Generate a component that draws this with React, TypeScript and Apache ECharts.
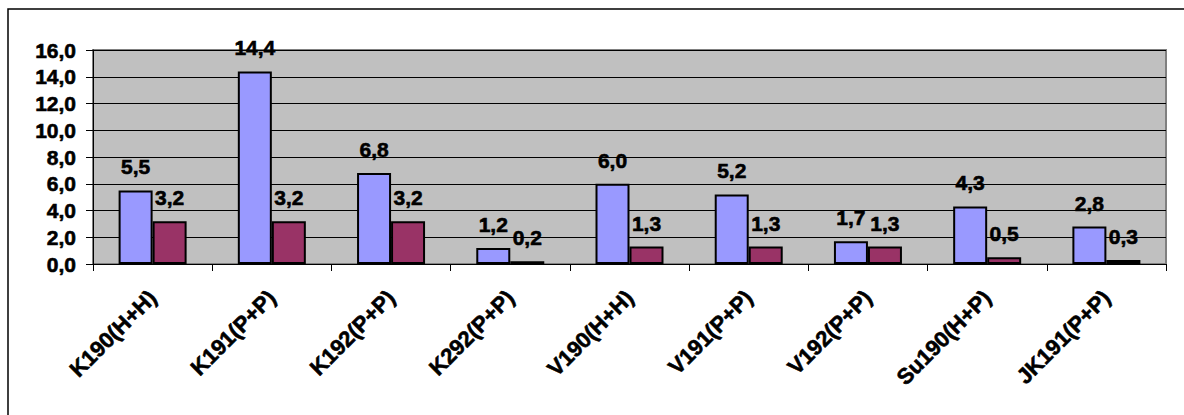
import React, { useEffect, useRef } from "react";
import * as echarts from "echarts";

const categories = [
  "K190(H+H)",
  "K191(P+P)",
  "K192(P+P)",
  "K292(P+P)",
  "V190(H+H)",
  "V191(P+P)",
  "V192(P+P)",
  "Su190(H+P)",
  "JK191(P+P)",
];
const seriesA = [5.5, 14.4, 6.8, 1.2, 6.0, 5.2, 1.7, 4.3, 2.8];
const seriesB = [3.2, 3.2, 3.2, 0.2, 1.3, 1.3, 1.3, 0.5, 0.3];
const yMin = 0;
const yMax = 16;
const yStep = 2;

const fmt = (v: number) => v.toFixed(1).replace(".", ",");
const FONT = "'Liberation Sans', Arial, sans-serif";

export default function App() {
  const ref = useRef<HTMLDivElement>(null);
  useEffect(() => {
    if (!ref.current) return;
    const chart = echarts.init(ref.current, undefined, { renderer: "svg" });
    const labelStyle = {
      show: true,
      position: "top" as const,
      distance: 13,
      fontFamily: FONT,
      fontWeight: "bold" as const,
      fontSize: 21,
      color: "#000",
      textBorderColor: "#000",
      textBorderWidth: 0.6,
      formatter: (p: any) => fmt(p.value),
    };
    chart.setOption({
      animation: false,
      backgroundColor: "#ffffff",
      textStyle: { fontFamily: FONT },
      graphic: [
        {
          type: "rect",
          shape: { x: 8, y: 9, width: 1300, height: 600 },
          style: { fill: "none", stroke: "#000", lineWidth: 1.5 },
          silent: true,
          z: 100,
        },
      ],
      grid: {
        left: 93,
        top: 50,
        right: 18,
        bottom: 151,
        show: true,
        backgroundColor: "#C0C0C0",
        borderColor: "#808080",
        borderWidth: 2,
      },
      xAxis: {
        type: "category",
        data: categories,
        axisLine: { show: true, lineStyle: { color: "#000", width: 1 } },
        axisTick: { show: true, alignWithLabel: false, length: 7, lineStyle: { color: "#000" } },
        axisLabel: {
          rotate: 45,
          margin: 30,
          interval: 0,
          fontFamily: FONT,
          fontWeight: "bold",
          fontSize: 22,
          color: "#000",
          textBorderColor: "#000",
          textBorderWidth: 0.6,
        },
        splitLine: { show: false },
      },
      yAxis: {
        type: "value",
        min: yMin,
        max: yMax,
        interval: yStep,
        axisLine: { show: true, lineStyle: { color: "#000", width: 1 } },
        axisTick: { show: true, length: 7, lineStyle: { color: "#000" } },
        axisLabel: {
          margin: 17,
          fontFamily: FONT,
          fontWeight: "bold",
          fontSize: 21,
          color: "#000",
          textBorderColor: "#000",
          textBorderWidth: 0.6,
          formatter: (v: number) => fmt(v),
        },
        splitLine: { show: true, lineStyle: { color: "#000", width: 1 } },
      },
      series: [
        {
          type: "bar",
          data: seriesA,
          barWidth: 34,
          barGap: "0%",
          itemStyle: { color: "#9999FF", borderColor: "#000", borderWidth: 2 },
          label: labelStyle,
        },
        {
          type: "bar",
          data: seriesB,
          barWidth: 34,
          barGap: "0%",
          itemStyle: { color: "#993366", borderColor: "#000", borderWidth: 2 },
          label: labelStyle,
        },
      ],
    });
    return () => chart.dispose();
  }, []);
  return (
    <div
      ref={ref}
      style={{ position: "fixed", left: 0, top: 0, width: 1184, height: 415 }}
    />
  );
}
